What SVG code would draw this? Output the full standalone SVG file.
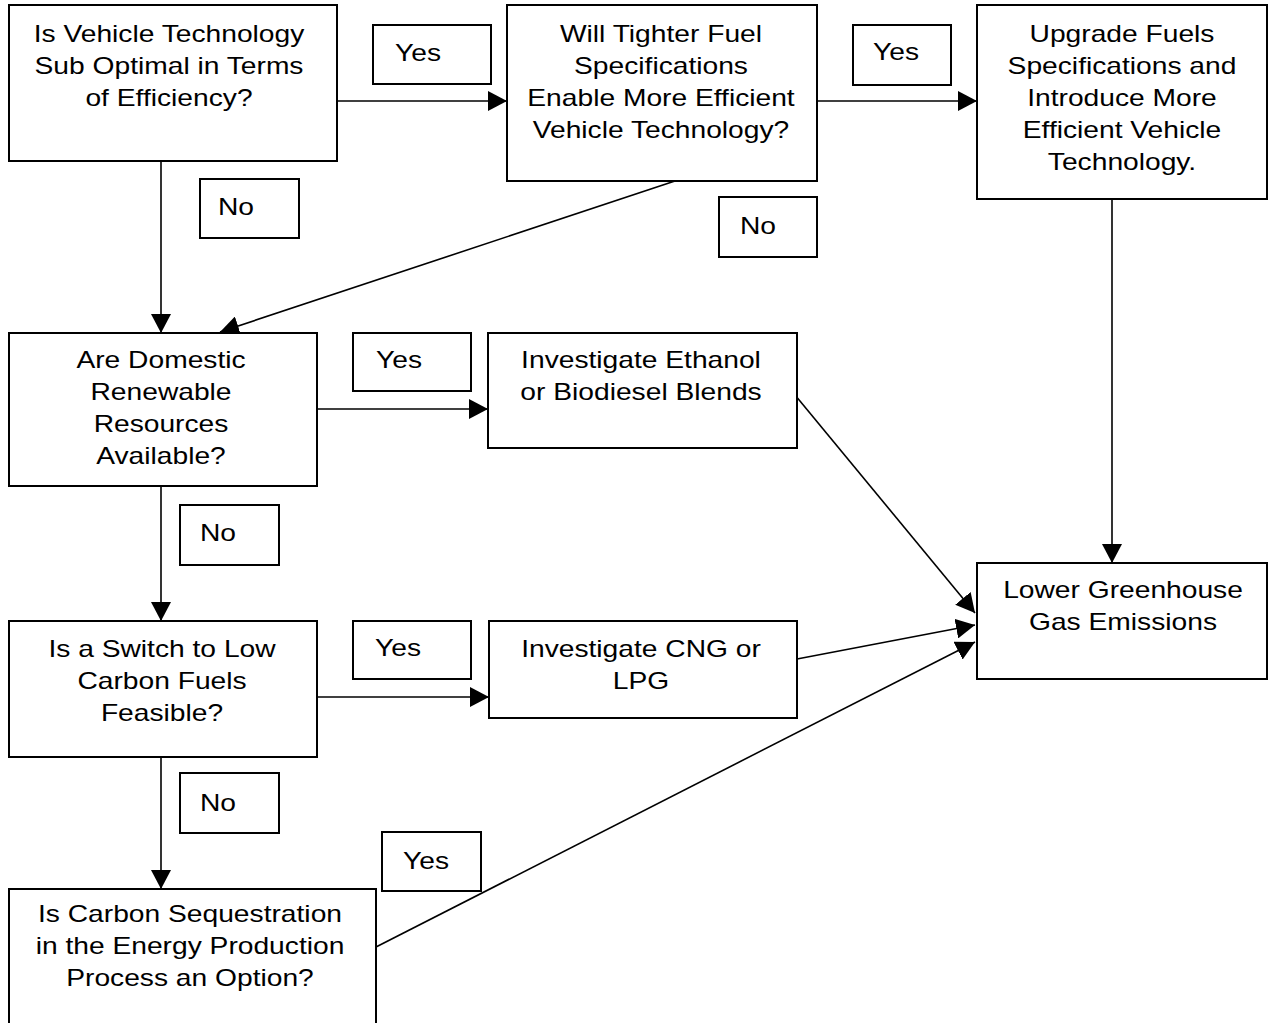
<svg xmlns="http://www.w3.org/2000/svg" width="1275" height="1023" viewBox="0 0 1275 1023">
<style>
.box{fill:#fff;stroke:#000;stroke-width:2}
.t{font-family:"Liberation Sans",Arial,sans-serif;font-size:24px;fill:#000}
.c{text-anchor:middle}
.conn{stroke:#000;stroke-width:1.6;fill:none}
</style>
<defs>
<marker id="ah" viewBox="0 0 19 20" refX="19" refY="10" markerUnits="userSpaceOnUse" markerWidth="19" markerHeight="20" orient="auto">
<path d="M0,0 L19,10 L0,20 Z" fill="#000"/>
</marker>
</defs>
<rect width="1275" height="1023" fill="#fff"/>
<g id="connectors">
<line class="conn" x1="334" y1="101" x2="507" y2="101" marker-end="url(#ah)"/>
<line class="conn" x1="815" y1="101" x2="977" y2="101" marker-end="url(#ah)"/>
<line class="conn" x1="161" y1="161" x2="161" y2="333" marker-end="url(#ah)"/>
<line class="conn" x1="681" y1="179" x2="220" y2="332" marker-end="url(#ah)"/>
<line class="conn" x1="1112" y1="199" x2="1112" y2="563" marker-end="url(#ah)"/>
<line class="conn" x1="315" y1="409" x2="488" y2="409" marker-end="url(#ah)"/>
<line class="conn" x1="161" y1="487" x2="161" y2="621" marker-end="url(#ah)"/>
<line class="conn" x1="315" y1="697" x2="489" y2="697" marker-end="url(#ah)"/>
<line class="conn" x1="161" y1="757" x2="161" y2="889" marker-end="url(#ah)"/>
<line class="conn" x1="795" y1="395" x2="975" y2="613" marker-end="url(#ah)"/>
<line class="conn" x1="797" y1="659" x2="975" y2="625" marker-end="url(#ah)"/>
<line class="conn" x1="376" y1="947" x2="975" y2="642" marker-end="url(#ah)"/>
</g>
<g id="n1"><rect class="box" x="9" y="5" width="328" height="156"/>
<text class="t c" transform="translate(169 42) scale(1.175 1)">Is Vehicle Technology</text>
<text class="t c" transform="translate(169 74) scale(1.175 1)">Sub Optimal in Terms</text>
<text class="t c" transform="translate(169 106) scale(1.175 1)">of Efficiency?</text></g>
<g id="n2"><rect class="box" x="507" y="5" width="310" height="176"/>
<text class="t c" transform="translate(661 42) scale(1.175 1)">Will Tighter Fuel</text>
<text class="t c" transform="translate(661 74) scale(1.175 1)">Specifications</text>
<text class="t c" transform="translate(661 106) scale(1.175 1)">Enable More Efficient</text>
<text class="t c" transform="translate(661 138) scale(1.175 1)">Vehicle Technology?</text></g>
<g id="n3"><rect class="box" x="977" y="5" width="290" height="194"/>
<text class="t c" transform="translate(1122 42) scale(1.175 1)">Upgrade Fuels</text>
<text class="t c" transform="translate(1122 74) scale(1.175 1)">Specifications and</text>
<text class="t c" transform="translate(1122 106) scale(1.175 1)">Introduce More</text>
<text class="t c" transform="translate(1122 138) scale(1.175 1)">Efficient Vehicle</text>
<text class="t c" transform="translate(1122 170) scale(1.175 1)">Technology.</text></g>
<g id="n4"><rect class="box" x="9" y="333" width="308" height="153"/>
<text class="t c" transform="translate(161 368) scale(1.175 1)">Are Domestic</text>
<text class="t c" transform="translate(161 400) scale(1.175 1)">Renewable</text>
<text class="t c" transform="translate(161 432) scale(1.175 1)">Resources</text>
<text class="t c" transform="translate(161 464) scale(1.175 1)">Available?</text></g>
<g id="n5"><rect class="box" x="488" y="333" width="309" height="115"/>
<text class="t c" transform="translate(641 368) scale(1.175 1)">Investigate Ethanol</text>
<text class="t c" transform="translate(641 400) scale(1.175 1)">or Biodiesel Blends</text></g>
<g id="n6"><rect class="box" x="977" y="563" width="290" height="116"/>
<text class="t c" transform="translate(1123 598) scale(1.175 1)">Lower Greenhouse</text>
<text class="t c" transform="translate(1123 630) scale(1.175 1)">Gas Emissions</text></g>
<g id="n7"><rect class="box" x="9" y="621" width="308" height="136"/>
<text class="t c" transform="translate(162 657) scale(1.175 1)">Is a Switch to Low</text>
<text class="t c" transform="translate(162 689) scale(1.175 1)">Carbon Fuels</text>
<text class="t c" transform="translate(162 721) scale(1.175 1)">Feasible?</text></g>
<g id="n8"><rect class="box" x="489" y="621" width="308" height="97"/>
<text class="t c" transform="translate(641 657) scale(1.175 1)">Investigate CNG or</text>
<text class="t c" transform="translate(641 689) scale(1.175 1)">LPG</text></g>
<g id="n9"><rect class="box" x="9" y="889" width="367" height="150"/>
<text class="t c" transform="translate(190 922) scale(1.175 1)">Is Carbon Sequestration</text>
<text class="t c" transform="translate(190 954) scale(1.175 1)">in the Energy Production</text>
<text class="t c" transform="translate(190 986) scale(1.175 1)">Process an Option?</text></g>
<g id="labels">
<g id="l1"><rect class="box" x="373" y="25" width="118" height="59"/><text class="t" transform="translate(395 61) scale(1.175 1)">Yes</text></g>
<g id="l2"><rect class="box" x="200" y="179" width="99" height="59"/><text class="t" transform="translate(218 215) scale(1.175 1)">No</text></g>
<g id="l3"><rect class="box" x="853" y="25" width="98" height="60"/><text class="t" transform="translate(873 60) scale(1.175 1)">Yes</text></g>
<g id="l4"><rect class="box" x="719" y="197" width="98" height="60"/><text class="t" transform="translate(740 234) scale(1.175 1)">No</text></g>
<g id="l5"><rect class="box" x="353" y="333" width="118" height="58"/><text class="t" transform="translate(376 368) scale(1.175 1)">Yes</text></g>
<g id="l6"><rect class="box" x="180" y="505" width="99" height="60"/><text class="t" transform="translate(200 541) scale(1.175 1)">No</text></g>
<g id="l7"><rect class="box" x="353" y="621" width="118" height="58"/><text class="t" transform="translate(375 656) scale(1.175 1)">Yes</text></g>
<g id="l8"><rect class="box" x="180" y="773" width="99" height="60"/><text class="t" transform="translate(200 811) scale(1.175 1)">No</text></g>
<g id="l9"><rect class="box" x="382" y="832" width="99" height="59"/><text class="t" transform="translate(403 869) scale(1.175 1)">Yes</text></g>
</g>
</svg>
